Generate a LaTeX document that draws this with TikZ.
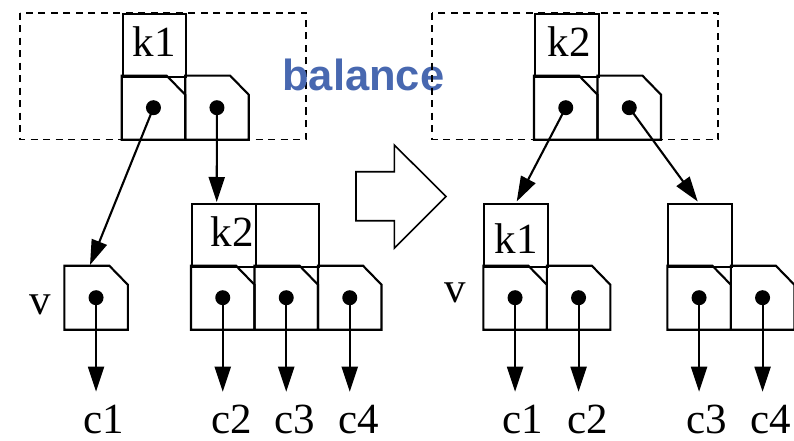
\documentclass[tikz,border=0pt]{standalone}
\usepackage{fontspec}
\setmainfont{Liberation Serif}
\newfontfamily\balfont{Liberation Sans}
\usetikzlibrary{arrows.meta}
\definecolor{balblue}{RGB}{72,104,176}
\begin{document}
\begin{tikzpicture}[x=1pt,y=-1pt, line width=2.1pt, line join=miter,
  dot/.style={circle,fill,inner sep=0pt,minimum size=15pt},
  arr/.style={-{Triangle[length=25pt,width=16pt]}},
  lbl/.style={inner sep=0pt,font=\fontsize{43}{50}\selectfont},
  kb/.style={draw,minimum width=63.5pt,minimum height=63pt,anchor=north west,inner sep=0pt},
  frame/.style={draw,line width=1.9pt,dash pattern=on 7pt off 5.5pt},
  pcell/.pic={\draw (0,0) -- (45,0) -- (63.5,19) -- (63.5,64) -- (0,64) -- cycle;
              \node[dot] (-dot) at (31.75,32) {};}
]
\useasboundingbox (0,0) rectangle (794,441);

% ---------- left: before ----------
\draw[frame] (20,12.7) rectangle (305.7,139.5);
\node[kb] (K1) at (121.7,12.7) {};
\pic (LA) at (121.7,75.7) {pcell};
\pic (LB) at (185.2,75.7) {pcell};
\node[lbl] (k1t) at (154,41.7) {k1};

\pic (V) at (64.3,265.7) {pcell};
\node[lbl] (vl) at (40,305) {v};

\node[kb] (K2) at (191,202.7) {};
\node[kb] (K2b) at (254.5,202.7) {};
\node[lbl] (k2t) at (232,231.7) {k2};
\pic (MA) at (191,265.7) {pcell};
\pic (MB) at (254.5,265.7) {pcell};
\pic (MC) at (318,265.7) {pcell};

\coordinate (tV) at (90,265);
\coordinate (tK2) at (216.7,202);
\draw[arr] (LA-dot.center) -- (tV);
\draw[arr] (LB-dot.center) -- (tK2);

\coordinate (b1) at (96.05,391.7);
\coordinate (b2) at (222.75,391.7);
\coordinate (b3) at (286.25,391.7);
\coordinate (b4) at (349.75,391.7);
\draw[arr] (V-dot.center) -- (b1);
\draw[arr] (MA-dot.center) -- (b2);
\draw[arr] (MB-dot.center) -- (b3);
\draw[arr] (MC-dot.center) -- (b4);
\node[lbl] (c1l) at (104,419.5) {c1};
\node[lbl] (c2l) at (232,419.5) {c2};
\node[lbl] (c3l) at (295,419.5) {c3};
\node[lbl] (c4l) at (359,419.5) {c4};

% ---------- balance ----------
\node[inner sep=0pt,anchor=base,text=balblue,font=\balfont\bfseries\fontsize{43.5}{50}\selectfont] (bal) at (363.3,91) {balance};
\draw[line width=1.6pt] (356,171.7) -- (394.3,171.7) -- (394.3,145) -- (446,196.5)
  -- (394.3,248.3) -- (394.3,220.7) -- (356,220.7) -- cycle;

% ---------- right: after ----------
\draw[frame] (432.3,12.7) rectangle (718.3,139.5);
\node[kb] (R2) at (534,12.7) {};
\pic (RA) at (534,75.7) {pcell};
\pic (RB) at (597.5,75.7) {pcell};
\node[lbl] (k2r) at (569,41.7) {k2};

\node[kb] (RK1) at (483.3,202.7) {};
\node[lbl] (k1r) at (516,238.7) {k1};
\node[lbl] (vr) at (455,292.5) {v};
\pic (SA) at (483.3,265.7) {pcell};
\pic (SB) at (546.8,265.7) {pcell};

\node[kb] (RK3) at (667.3,202.7) {};
\pic (TA) at (667.3,265.7) {pcell};
\pic (TB) at (730.8,265.7) {pcell};

\coordinate (tR1) at (516.7,201.5);
\coordinate (tR2) at (697.7,201.5);
\draw[arr] (RA-dot.center) -- (tR1);
\draw[arr] (RB-dot.center) -- (tR2);

\coordinate (e1) at (515.05,391.7);
\coordinate (e2) at (578.55,391.7);
\coordinate (e3) at (699.05,391.7);
\coordinate (e4) at (762.55,391.7);
\draw[arr] (SA-dot.center) -- (e1);
\draw[arr] (SB-dot.center) -- (e2);
\draw[arr] (TA-dot.center) -- (e3);
\draw[arr] (TB-dot.center) -- (e4);
\node[lbl] (d1l) at (522.5,419.5) {c1};
\node[lbl] (d2l) at (587.5,419.5) {c2};
\node[lbl] (d3l) at (706.7,419.5) {c3};
\node[lbl] (d4l) at (771,419.5) {c4};
\end{tikzpicture}
\end{document}
